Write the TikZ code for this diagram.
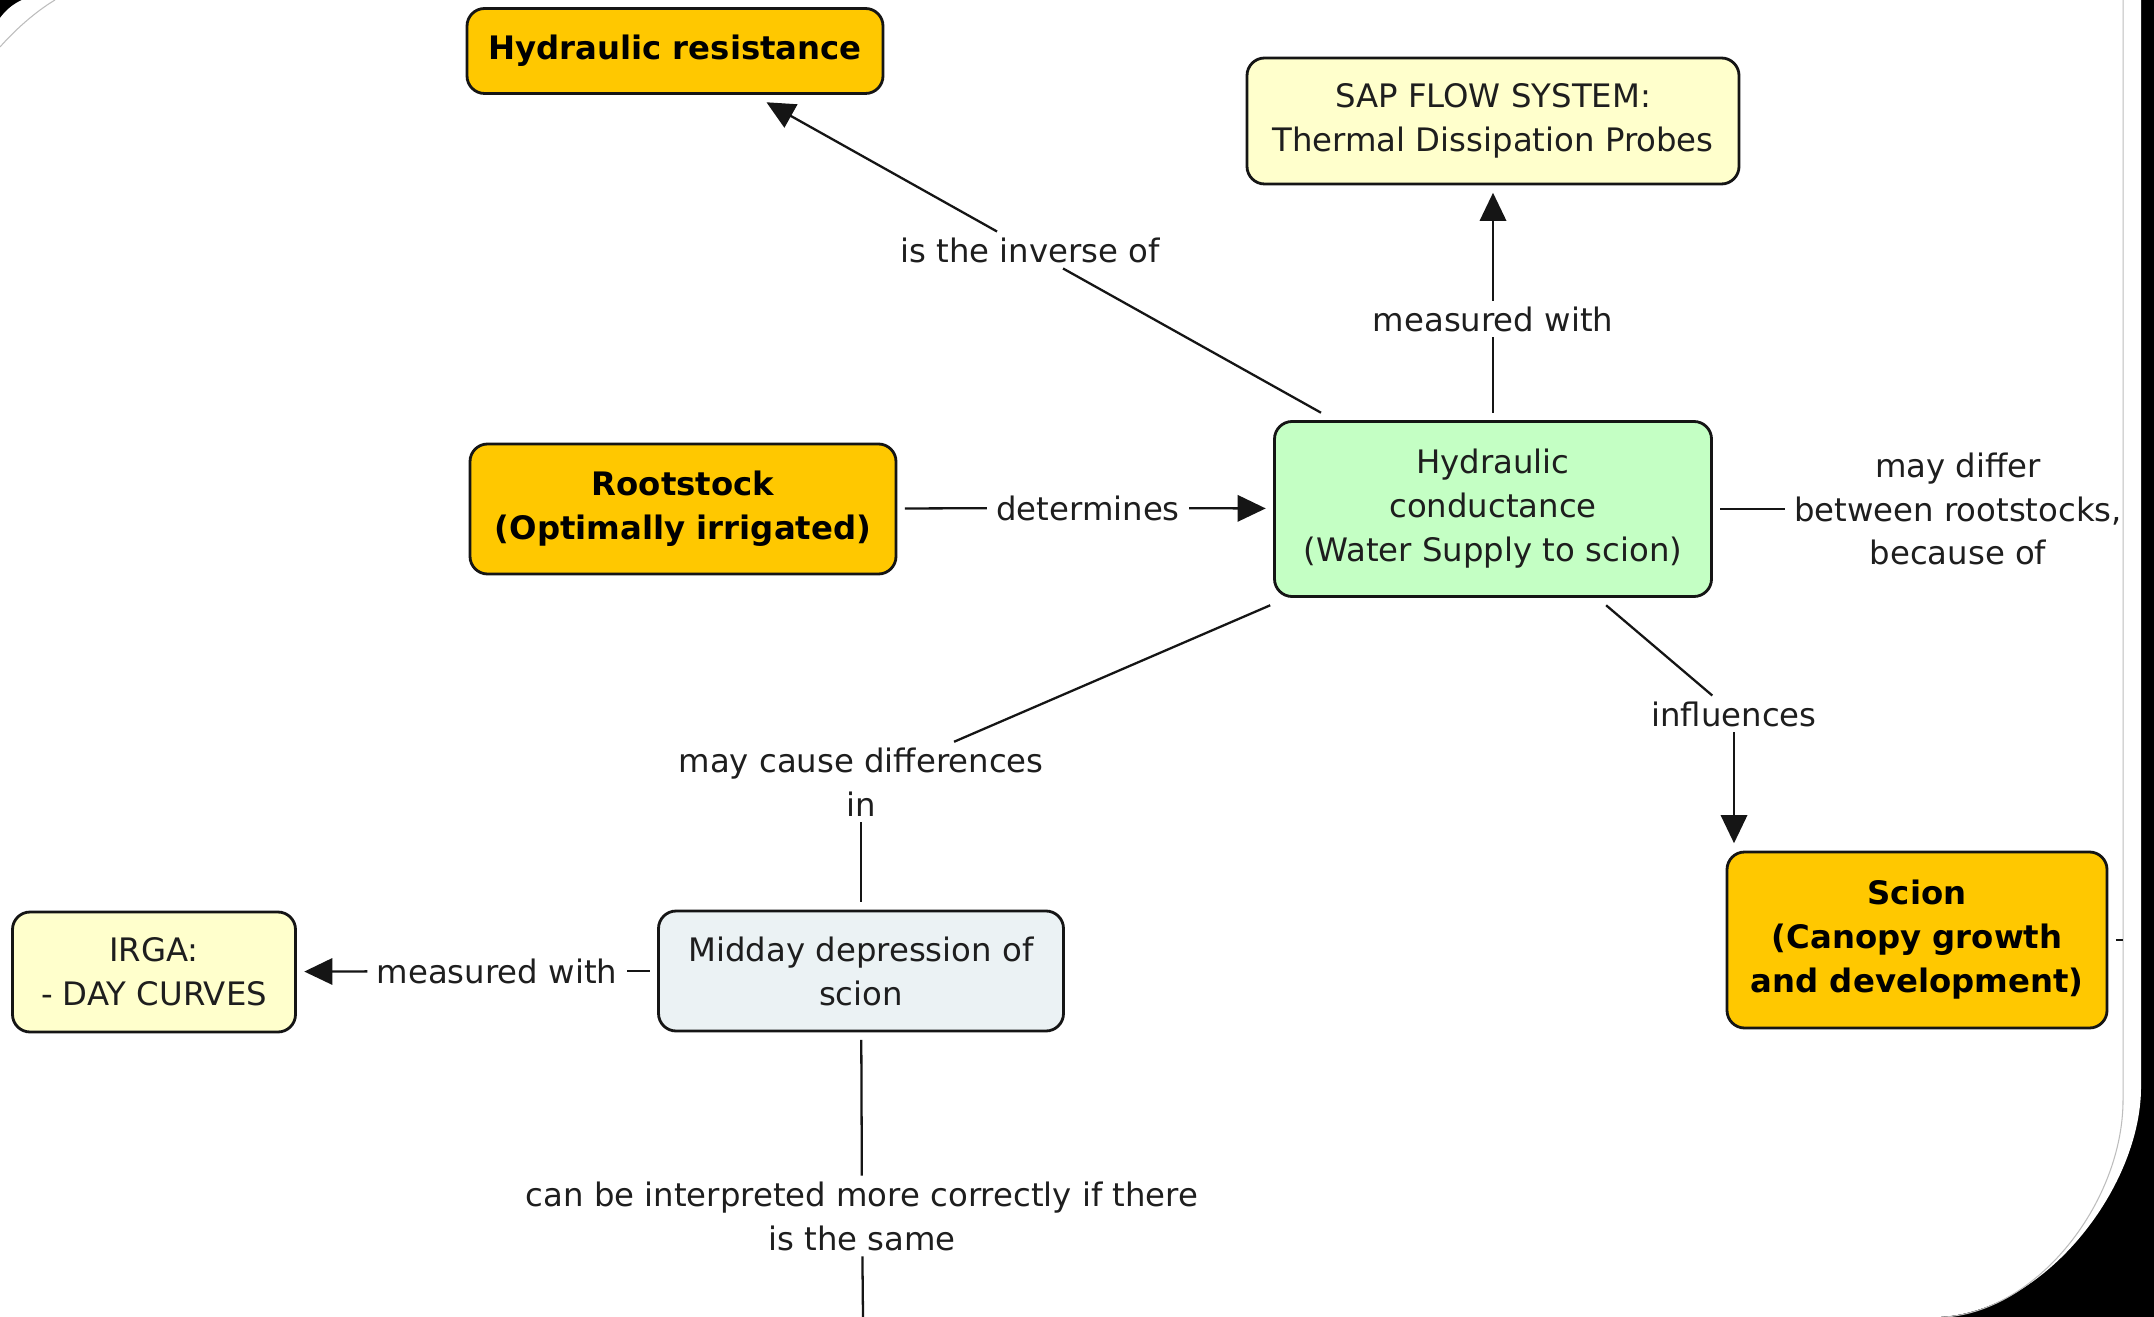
\documentclass[tikz,border=0pt]{standalone}
\usepackage{fontspec}
\setmainfont{DejaVu Sans}
\usetikzlibrary{positioning,arrows.meta}
\definecolor{ink}{HTML}{151515}
\definecolor{textc}{HTML}{1E1E1E}
\definecolor{keyc}{HTML}{FFC800}
\definecolor{toolc}{HTML}{FFFFCC}
\definecolor{flowc}{HTML}{C4FFC4}
\definecolor{effectc}{HTML}{EBF2F4}
\definecolor{framec}{HTML}{BDBDBD}

\begin{document}
\begin{tikzpicture}[
  x=1cm, y=-1cm,
  every node/.style={font=\fontsize{9.2}{12.5}\selectfont},
  concept/.style={
    rectangle, rounded corners=5pt,
    draw=ink, line width=0.8pt,
    align=center, inner sep=2pt, outer sep=2.5pt,
    text=textc
  },
  key/.style={concept, fill=keyc, text=black, font=\fontsize{9.2}{12.5}\selectfont\bfseries},
  linkword/.style={align=center, text=textc, inner xsep=2.5pt, inner ysep=1.5pt},
  link/.style={draw=ink, line width=0.65pt},
  >={Triangle[length=8pt,width=7.5pt]}
]

% Frame of the screenshot
\useasboundingbox (0,0) rectangle (21.54,13.17);
\fill[black] (0,0) rectangle (21.54,13.17);
\fill[white] (0.22,0) -- (21.41,0) -- (21.41,10.87)
  .. controls (21.41,11.9) and (20.4,13.17) .. (19.33,13.17)
  -- (0,13.17) -- (0,0.18) .. controls (0.06,0.1) and (0.13,0.04) .. (0.22,0);
\draw[framec, line width=0.3pt] (21.23,0) -- (21.23,11.0)
  .. controls (21.23,12.0) and (20.4,13.1) .. (19.45,13.17);
\draw[framec, line width=0.3pt] (0,0.47) .. controls (0.15,0.3) and (0.35,0.12) .. (0.55,0);

% Concepts
\node[key, minimum width=4.16cm, minimum height=0.85cm] (hres) at (6.75,0.51) {Hydraulic resistance};
\node[concept, fill=toolc, minimum width=4.92cm, minimum height=1.26cm] (sap) at (14.93,1.21) {SAP FLOW SYSTEM:\\Thermal Dissipation Probes};
\node[key, minimum width=4.26cm, minimum height=1.30cm] (root) at (6.83,5.09) {Rootstock\\(Optimally irrigated)};
\node[concept, fill=flowc, minimum width=4.37cm, minimum height=1.75cm] (hcond) at (14.93,5.09) {Hydraulic\\conductance\\(Water Supply to scion)};
\node[concept, fill=toolc, minimum width=2.83cm, minimum height=1.20cm] (irga) at (1.54,9.72) {IRGA:\\- DAY CURVES};
\node[concept, fill=effectc, minimum width=4.05cm, minimum height=1.20cm] (midday) at (8.61,9.71) {Midday depression of\\scion};
\node[key, minimum width=3.80cm, minimum height=1.76cm] (scion) at (19.17,9.40) {Scion\\(Canopy growth\\and development)};

% Linking phrases
\node[linkword] (inverse) at (10.30,2.50) {is the inverse of};
\node[linkword] (meassap) at (14.93,3.19) {measured with};
\node[linkword] (determ) at (10.88,5.08) {determines};
\node[linkword] (differ) at (19.58,5.09) {may differ\\between rootstocks,\\because of};
\node[linkword] (influ) at (17.34,7.14) {influences};
\node[linkword] (cause) at (8.61,7.82) {may cause differences\\in};
\node[linkword] (measirga) at (4.97,9.71) {measured with};
\node[linkword] (interp) at (8.62,12.16) {can be interpreted more correctly if there\\is the same};

% Loose ends leaving the frame
\coordinate (offbottom) at (8.63,13.17);
\coordinate (offright) at (21.23,9.40);

% Connectors
\foreach \a/\b in {hcond/inverse, hcond/meassap, root/determ, hcond/differ,
                   hcond/influ, hcond/cause, cause/midday, midday/measirga, midday/interp} {
  \draw[link] (\a) -- (\b);
}
\foreach \a/\b in {inverse/hres, meassap/sap, determ/hcond, measirga/irga} {
  \draw[link, ->] (\a) -- (\b);
}
\draw[link, ->] (influ) -- (influ |- scion.north);
\draw[link] (interp) -- (offbottom);
\draw[link] (scion.east) -- (offright);

\end{tikzpicture}
\end{document}
